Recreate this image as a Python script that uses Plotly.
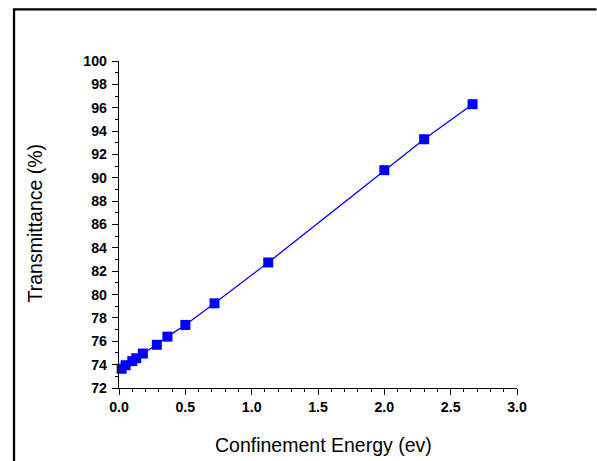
import plotly.graph_objects as go

energy = [0.02, 0.05, 0.10, 0.13, 0.18, 0.285, 0.365, 0.50, 0.72, 1.125, 2.00, 2.30, 2.665]
transmittance = [73.65, 73.95, 74.3, 74.55, 74.95, 75.7, 76.4, 77.4, 79.25, 82.75, 90.65, 93.3, 96.3]

x_title = "Confinement Energy (ev)"
y_title = "Transmittance (%)"

OFF = 0  # page body margin (removed via post_script)
W, H = 597 - OFF, 461 - OFF
# plot area in page pixels: left 119.3, right 517.4, top 61, bottom 388.5
L = 119.3 - OFF
T = 61 - OFF
pw = 517.4 - 119.3
ph = 388.5 - 61
R = W - L - pw
B = H - T - ph

def px(xp):
    return (xp - OFF - L) / pw

def py(yp):
    return (T + ph - (yp - OFF)) / ph

font = "Arial, Liberation Sans, sans-serif"

fig = go.Figure()
fig.add_trace(go.Scatter(
    x=energy, y=transmittance, mode="lines+markers",
    line=dict(color="#0000ff", width=1.3),
    marker=dict(symbol="square", size=10, color="#0000ff", line=dict(width=0)),
    cliponaxis=False, showlegend=False,
))

axis_common = dict(
    showgrid=False, zeroline=False, showline=True, linecolor="black", linewidth=1.3,
    ticks="outside", ticklen=6, tickwidth=1.3, tickcolor="black",
    tickfont=dict(family=font, size=14.2, color="black", weight="bold"),
    mirror=False,
)

fig.update_layout(
    width=W, height=H,
    margin=dict(l=L, r=R, t=T, b=B, pad=0),
    paper_bgcolor="white", plot_bgcolor="white",
    xaxis=dict(range=[0, 3], tick0=0, dtick=0.5, tickformat=".1f",
               minor=dict(dtick=0.1, ticks="outside", ticklen=3, tickwidth=1, tickcolor="black"),
               **axis_common),
    yaxis=dict(range=[72, 100], tick0=72, dtick=2, ticklabelstandoff=2,
               minor=dict(dtick=1, ticks="outside", ticklen=3, tickwidth=1, tickcolor="black"),
               **axis_common),
    annotations=[
        dict(text=x_title, xref="paper", yref="paper", x=px(323.5), y=py(446),
             showarrow=False, xanchor="center", yanchor="middle",
             font=dict(family=font, size=19.5, color="black")),
        dict(text=y_title, xref="paper", yref="paper", x=px(35), y=py(223),
             showarrow=False, xanchor="center", yanchor="middle", textangle=-90,
             font=dict(family=font, size=19.5, color="black")),
    ],
    shapes=[
        dict(type="path", xref="paper", yref="paper",
             path=f"M {px(14.3)},{py(470)} L {px(14.3)},{py(9.3)} L {px(597)},{py(9.3)}",
             line=dict(color="black", width=2.3)),
    ],
)

fig.write_html(
    "out.html",
    config={"displayModeBar": False},
    post_script="document.body.style.margin='0';document.body.style.overflow='hidden';",
)
